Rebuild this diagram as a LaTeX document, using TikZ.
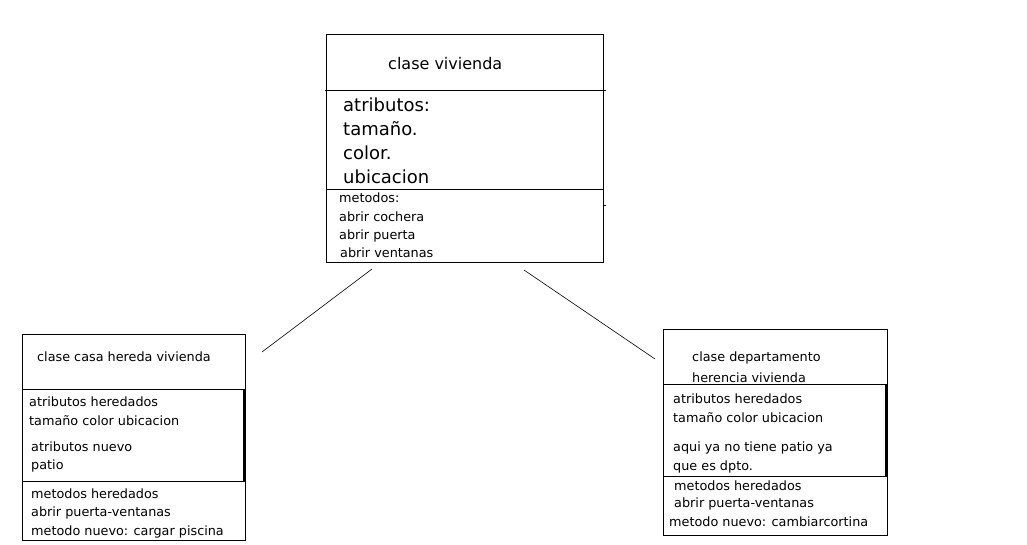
\documentclass[tikz,border=0pt]{standalone}
\usepackage{fontspec}
\setmainfont{DejaVu Sans}
\usetikzlibrary{positioning}

\begin{document}
\begin{tikzpicture}[
            x=1pt, y=-1pt,
            box/.style={rectangle, draw=black, line width=0.8pt, anchor=north west, inner sep=0pt},
            txt/.style={anchor=west, inner sep=0pt, font=\fontsize{12.8}{15}\selectfont},
            big/.style={anchor=west, inner sep=0pt, font=\fontsize{18}{20}\selectfont},
            mid/.style={anchor=west, inner sep=0pt, font=\fontsize{16}{18}\selectfont},
            auto
        ]
        \useasboundingbox (0,0) rectangle (1027,545);

        %blocks
        \node[box, minimum width=277pt, minimum height=228pt] (viv)  at (326,34)  {};
        \node[box, minimum width=223pt, minimum height=206pt] (casa) at (22,334)  {};
        \node[box, minimum width=224pt, minimum height=206pt] (dpto) at (663,329) {};

        %dividers
        \draw[line width=0.8pt] (325,90) -- (606,90);
        \draw[line width=0.8pt] (326,189) -- (603,189);
        \draw[line width=0.8pt] (603,205) -- (606,205);
        \draw[line width=0.8pt] (22,389) -- (245,389);
        \draw[line width=1.4pt] (244,389) -- (244,481);
        \draw[line width=0.8pt] (22,481) -- (245,481);
        \draw[line width=0.8pt] (663,384) -- (887,384);
        \draw[line width=1.4pt] (886,384) -- (886,476);
        \draw[line width=0.8pt] (663,476) -- (887,476);

        %clase vivienda
        \node[mid] (vivname) at (388,64)  {clase vivienda};
        \node[big] (vivat)   at (343,105) {atributos:};
        \node[big] (vivtam)  at (343,129) {tamaño.};
        \node[big] (vivcol)  at (343,153) {color.};
        \node[big] (vivubi)  at (343,177) {ubicacion};
        \node[txt] (vivmet)  at (339,198) {metodos:};
        \node[txt] (vivcoc)  at (339,217) {abrir cochera};
        \node[txt] (vivpue)  at (339,236) {abrir puerta};
        \node[txt] (vivven)  at (340,253) {abrir ventanas};

        %clase casa
        \node[txt] (casaname) at (37,357) {clase casa hereda vivienda};
        \node[txt] (casaher)  at (29,402) {atributos heredados};
        \node[txt] (casatam)  at (29,421) {tamaño color ubicacion};
        \node[txt] (casanue)  at (31,447) {atributos nuevo};
        \node[txt] (casapat)  at (31,466) {patio};
        \node[txt] (casamet)  at (31,494) {metodos heredados};
        \node[txt] (casapue)  at (31,513) {abrir puerta-ventanas};
        \node[txt] (casapis)  at (31,532) {metodo nuevo: cargar piscina};

        %clase departamento
        \node[txt] (dptoname) at (692,358) {clase departamento};
        \node[txt] (dptoher0) at (692,378) {herencia vivienda};
        \node[txt] (dptoher)  at (673,399) {atributos heredados};
        \node[txt] (dptotam)  at (673,418) {tamaño color ubicacion};
        \node[txt] (dptopat)  at (673,448) {aqui ya no tiene patio ya};
        \node[txt] (dptoque)  at (673,467) {que es dpto.};
        \node[txt] (dptomet)  at (674,486) {metodos heredados};
        \node[txt] (dptopue)  at (674,504) {abrir puerta-ventanas};
        \node[txt] (dptocor)  at (669,522) {metodo nuevo: cambiarcortina};

        %line ends
        \coordinate (l1) at (372,269);
        \coordinate (l2) at (262,352);
        \coordinate (r1) at (524,270);
        \coordinate (r2) at (655,359);

        %lines
        \draw[line width=0.6pt] (l1) -- (l2);
        \draw[line width=0.6pt] (r1) -- (r2);

        \end{tikzpicture}
\end{document}
